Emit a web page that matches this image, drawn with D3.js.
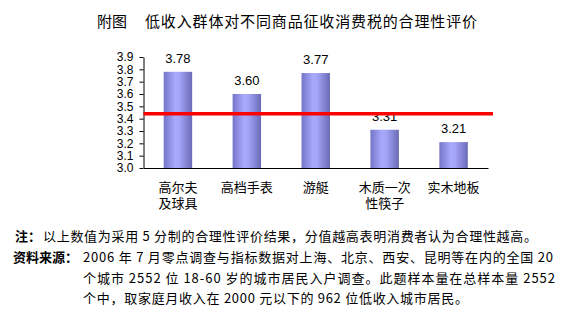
<!DOCTYPE html>
<html>
<head>
<meta charset="utf-8">
<script src="https://cdn.jsdelivr.net/npm/d3@7"></script>
<style>
  html, body { margin: 0; padding: 0; background: #fff; }
  svg { display: block; }
</style>
</head>
<body>
<div id="chart"></div>
<script>
// chart data
const categories = ['高尔夫及球具', '高档手表', '游艇', '木质一次性筷子', '实木地板'];
const categoryLines = [['高尔夫', '及球具'], ['高档手表'], ['游艇'], ['木质一次', '性筷子'], ['实木地板']];
const values = [3.78, 3.60, 3.77, 3.31, 3.21];
const refValue = 3.44;
const yTicks = [3.0, 3.1, 3.2, 3.3, 3.4, 3.5, 3.6, 3.7, 3.8, 3.9];

const titleLead = '附图';
const titleText = '低收入群体对不同商品征收消费税的合理性评价';
const noteLabels = ['注：', '资料来源：'];
const noteLines = [
  '以上数值为采用 5 分制的合理性评价结果，分值越高表明消费者认为合理性越高。',
  '2006 年 7 月零点调查与指标数据对上海、北京、西安、昆明等在内的全国 20',
  '个城市 2552 位 18-60 岁的城市居民入户调查。此题样本量在总样本量 2552',
  '个中，取家庭月收入在 2000 元以下的 962 位低收入城市居民。'
];

const W = 581, H = 320;
const cjk = '"Noto Sans CJK SC", "Noto Sans", sans-serif';
const latin = '"Liberation Sans", Arial, sans-serif';

const svg = d3.select('#chart').append('svg')
  .attr('width', W)
  .attr('height', H);

// bar gradient, darker at the edges
const grad = svg.append('defs').append('linearGradient')
  .attr('id', 'barGrad')
  .attr('x1', '0%').attr('x2', '100%').attr('y1', '0%').attr('y2', '0%');
grad.append('stop').attr('offset', '0%').attr('stop-color', '#7474c8');
grad.append('stop').attr('offset', '40%').attr('stop-color', '#a8a8fc');
grad.append('stop').attr('offset', '55%').attr('stop-color', '#a4a4f8');
grad.append('stop').attr('offset', '100%').attr('stop-color', '#6a6ab6');

// title
svg.append('text')
  .attr('x', 97).attr('y', 27)
  .style('font-family', cjk).style('font-size', '15px').style('fill', '#000')
  .text(titleLead);
svg.append('text')
  .attr('x', 145).attr('y', 27)
  .attr('textLength', 332).attr('lengthAdjust', 'spacing')
  .style('font-family', cjk).style('font-size', '15px').style('fill', '#000')
  .text(titleText);

// scales
const x = d3.scaleBand()
  .domain(categories)
  .range([143.5, 488])
  .paddingInner(0.587)
  .paddingOuter(0.293);

const y = d3.scaleLinear()
  .domain([3.0, 3.9])
  .range([168, 57]);

// y axis
const yAxis = svg.append('g')
  .attr('transform', 'translate(143.5,0)')
  .call(d3.axisLeft(y).tickValues(yTicks).tickFormat(d3.format('.1f'))
    .tickSize(4).tickSizeOuter(0).tickPadding(6));
yAxis.selectAll('text')
  .style('font-family', latin).style('font-size', '12px').style('fill', '#000');
yAxis.selectAll('line, path').attr('stroke', '#000');

// bars
svg.selectAll('rect.bar')
  .data(values)
  .enter()
  .append('rect')
  .attr('class', 'bar')
  .attr('x', (d, i) => x(categories[i]))
  .attr('y', d => y(d))
  .attr('width', x.bandwidth())
  .attr('height', d => y(3.0) - y(d))
  .style('fill', 'url(#barGrad)');

// value labels
svg.selectAll('text.val')
  .data(values)
  .enter()
  .append('text')
  .attr('class', 'val')
  .attr('x', (d, i) => x(categories[i]) + x.bandwidth() / 2)
  .attr('y', d => y(d) - 9)
  .attr('text-anchor', 'middle')
  .style('font-family', latin).style('font-size', '13px').style('fill', '#000')
  .text(d => d.toFixed(2));

// x axis
const xAxis = svg.append('g')
  .attr('transform', 'translate(0,168)')
  .call(d3.axisBottom(x).tickSize(0).tickSizeOuter(0).tickFormat(''));
xAxis.select('.domain').attr('stroke', '#000');
xAxis.selectAll('.tick text').remove();
xAxis.selectAll('.tick')
  .append('text')
  .attr('text-anchor', 'middle')
  .style('font-family', cjk).style('font-size', '13px').style('fill', '#000')
  .each(function (d) {
    const lines = categoryLines[categories.indexOf(d)];
    d3.select(this).selectAll('tspan')
      .data(lines)
      .enter()
      .append('tspan')
      .attr('x', 0)
      .attr('y', (l, j) => 24 + j * 16)
      .text(l => l);
  });

// reference line, drawn over the labels
svg.append('line')
  .attr('x1', 143.5).attr('x2', 493)
  .attr('y1', y(refValue)).attr('y2', y(refValue))
  .attr('stroke', '#ff0000')
  .attr('stroke-width', 3.5);

// notes
const notes = svg.append('g')
  .style('font-family', cjk).style('font-size', '13px').style('fill', '#000');
notes.append('text').attr('x', 15).attr('y', 241)
  .style('font-weight', 'bold').text(noteLabels[0]);
notes.append('text').attr('x', 13).attr('y', 262)
  .style('font-weight', 'bold').text(noteLabels[1]);

const noteX = [43, 83, 83, 83];
const noteY = [241, 262, 283, 303];
const noteLen = [494, 470, 472, 385];
notes.selectAll('text.line')
  .data(noteLines)
  .enter()
  .append('text')
  .attr('class', 'line')
  .attr('x', (d, i) => noteX[i])
  .attr('y', (d, i) => noteY[i])
  .attr('textLength', (d, i) => noteLen[i])
  .attr('lengthAdjust', 'spacing')
  .text(d => d);
</script>
</body>
</html>
